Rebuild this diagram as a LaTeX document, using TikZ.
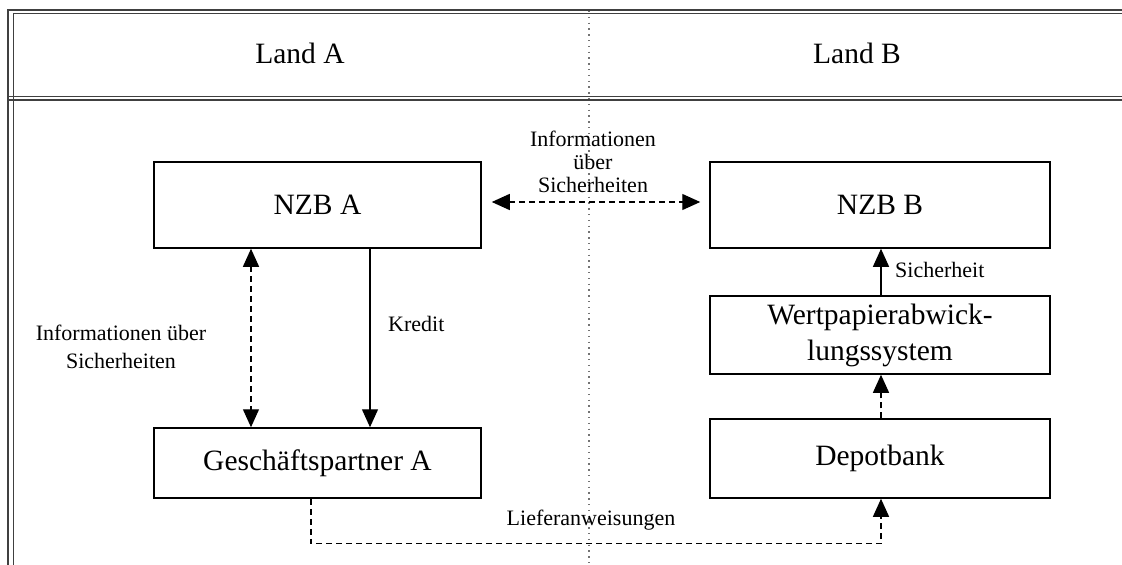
\documentclass[tikz,border=0pt]{standalone}
\usepackage{fontspec}
\setmainfont{Liberation Serif}
\usetikzlibrary{arrows.meta}
\begin{document}
\begin{tikzpicture}[x=1pt,y=-1pt,
  frameline/.style={line width=1.4pt,draw=black!75},
  boxnode/.style={draw=black,line width=1.5pt,font=\fontsize{29.5}{36}\selectfont,align=center,inner sep=0pt},
  biglabel/.style={font=\fontsize{29.5}{36}\selectfont,inner sep=0pt},
  smalllabel/.style={font=\fontsize{22}{23}\selectfont,align=center,inner sep=0pt},
  conn/.style={line width=1.3pt,-{Triangle[length=18pt,width=16pt]}},
  dconn/.style={conn,dash pattern=on 6pt off 4pt},
  ddconn/.style={dconn,{Triangle[length=18pt,width=16pt]}-{Triangle[length=18pt,width=16pt]}},
  divider/.style={line width=1.3pt,draw=black!55,dash pattern=on 1.3pt off 4.5pt}]
\useasboundingbox (0,0) rectangle (1122,565);
% frame
\draw[frameline] (8,565) -- (8,10) -- (1122,10);
\draw[frameline] (13.5,565) -- (13.5,13.5) -- (1122,13.5);
\draw[frameline] (7,96.5) -- (1122,96.5);
\draw[frameline] (7,100) -- (1122,100);
% divider
\draw[divider] (589,11) -- (589,565);
% headers
\node[biglabel] (landA) at (300,53) {Land A};
\node[biglabel] (landB) at (857,53) {Land B};
% boxes
\node[boxnode,minimum width=327pt,minimum height=86pt] (nzbA) at (317.5,205) {NZB A};
\node[boxnode,minimum width=327pt,minimum height=70pt] (gesch) at (317.5,463) {Geschäftspartner A};
\node[boxnode,minimum width=340pt,minimum height=86pt] (nzbB) at (880,205) {NZB B};
\node[boxnode,minimum width=340pt,minimum height=78pt] (wert) at (880,335) {Wertpapierabwick-\\lungssystem};
\node[boxnode,minimum width=340pt,minimum height=79pt] (depot) at (880,458.5) {Depotbank};
% labels
\node[smalllabel] (infoTop) at (593,162) {Informationen\\über\\Sicherheiten};
\node[smalllabel,font=\fontsize{22}{28}\selectfont] (infoLeft) at (121,347) {Informationen über\\Sicherheiten};
\node[smalllabel,anchor=west] (kredit) at (388,324) {Kredit};
\node[smalllabel,anchor=west] (sich) at (895,270) {Sicherheit};
\node[smalllabel] (liefer) at (591,520) {Lieferanweisungen};
% connectors
\draw[ddconn] ([xshift=10pt,yshift=3pt]nzbA.east) -- ([xshift=-9pt,yshift=3pt]nzbB.west);
\draw[ddconn] ([xshift=-66.5pt]nzbA.south) -- ([xshift=-66.5pt]gesch.north);
\draw[conn] ([xshift=52.5pt]nzbA.south) -- ([xshift=52.5pt]gesch.north);
\draw[conn] ([xshift=1pt]wert.north) -- ([xshift=1pt]nzbB.south);
\draw[dconn] ([xshift=1pt]depot.north) -- ([xshift=1pt]wert.south);
\draw[dconn] ([xshift=-6.5pt]gesch.south) -- ++(0,45) -| ([xshift=1pt]depot.south);
\end{tikzpicture}
\end{document}
